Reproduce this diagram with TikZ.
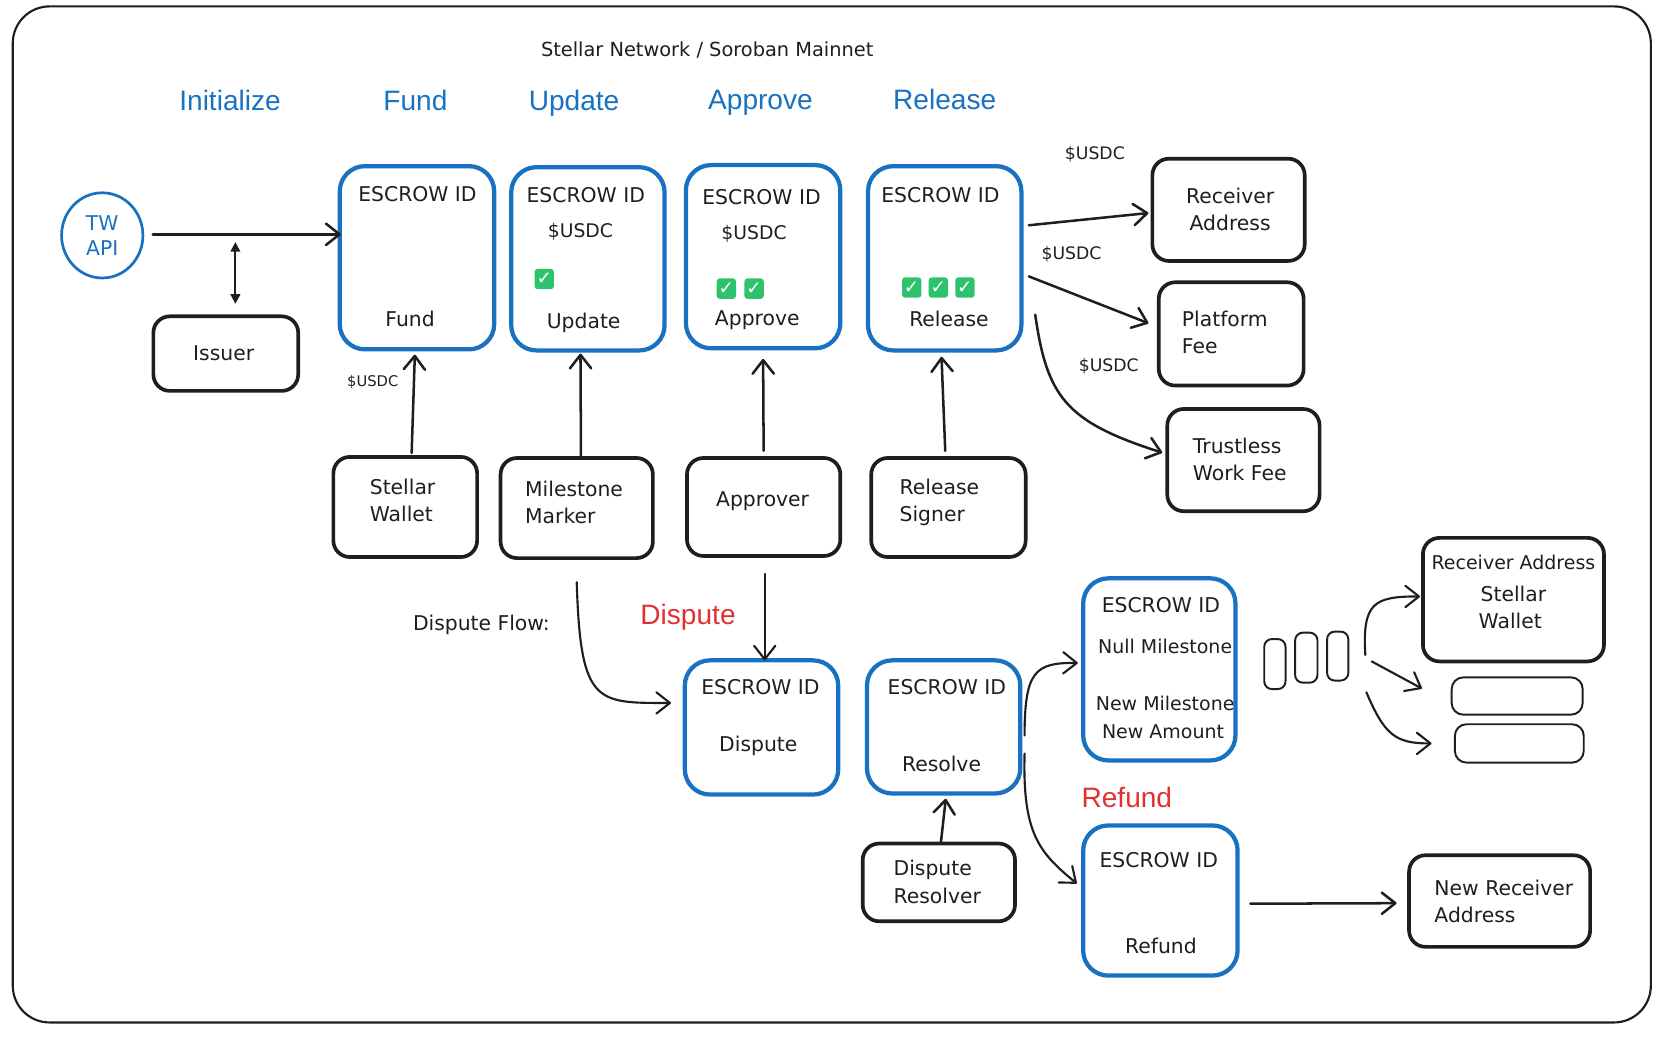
\documentclass[tikz,border=0pt]{standalone}
\usepackage{fontspec}
\setmainfont{DejaVu Sans}
\newfontfamily\headfont{Liberation Sans}
\usetikzlibrary{arrows.meta,fit,shapes.geometric,calc}
\definecolor{ink}{HTML}{1E1E1E}
\definecolor{eblue}{HTML}{1971C2}
\definecolor{ered}{HTML}{E03131}
\definecolor{egreen}{HTML}{2DC26B}
\begin{document}
\begin{tikzpicture}[x=0.55pt,y=-0.55pt,
  hand/.style={font=\fontsize{10.5}{14}\selectfont, text=ink, inner sep=0pt, align=center},
  handl/.style={hand, align=left},
  hands/.style={hand, font=\fontsize{9.8}{13}\selectfont},
  title/.style={font=\fontsize{10}{12}\selectfont, text=ink, inner sep=0pt},
  head/.style={font=\headfont\fontsize{14.5}{17}\selectfont, text=eblue, inner sep=0pt, anchor=base},
  redhead/.style={head, text=ered},
  usdc/.style={font=\fontsize{9.7}{12}\selectfont, text=ink, inner sep=0pt},
  usdcs/.style={font=\fontsize{8.9}{11}\selectfont, text=ink, inner sep=0pt},
  usdcxs/.style={font=\fontsize{7.6}{9}\selectfont, text=ink, inner sep=0pt},
  bluebox/.style={draw=eblue, line width=2.2pt, rounded corners=13pt, inner sep=0pt},
  blackbox/.style={draw=ink, line width=1.9pt, rounded corners=8.5pt, inner sep=0pt},
  thinbox/.style={draw=ink, line width=1pt, rounded corners=4pt, inner sep=0pt},
  chk/.style={fill=egreen, rounded corners=1.6pt, minimum width=10pt, minimum height=10.5pt,
     inner sep=0pt, text=white, font=\fontsize{9.5}{9.5}\selectfont\bfseries},
  arr/.style={draw=ink, line width=1.3pt, line cap=round,
     -{Straight Barb[length=7pt,width=11pt,round]}},
  tarr/.style={draw=ink, line width=1.1pt, line cap=round,
     -{Straight Barb[length=7pt,width=11pt,round]}},
  frame/.style={draw=ink, line width=1.1pt, rounded corners=19pt}
]
\useasboundingbox (0,0) rectangle (1568,976);
\draw[frame] (12,6) rectangle (1550,960);

% title and headings
\node[title] (title) at (664,47) {Stellar Network / Soroban Mainnet};
\node[head] (hInit) at (216,104) {Initialize};
\node[head] (hFund) at (390,104) {Fund};
\node[head] (hUpd) at (539,104) {Update};
\node[head] (hApp) at (714,103) {Approve};
\node[head] (hRel) at (887,103) {Release};

% TW API and issuer
\node[ellipse, draw=eblue, line width=1.4pt, minimum width=42pt, minimum height=44pt, inner sep=0pt,
  text=eblue, font=\fontsize{10.5}{13}\selectfont, align=center] (tw) at (96,221) {TW\\API};
\node[blackbox, fit={(144,297)(280,367)}] (issuer) {};
\node[hand] (issuerT) at (210,332) {Issuer};

% escrow boxes, top row
\node[bluebox, fit={(319,156)(464,328)}] (fundB) {};
\node[hand] (fundE) at (392,182) {ESCROW ID};
\node[hand] (fundL) at (385,299) {Fund};

\node[bluebox, fit={(480,157)(624,329)}] (updB) {};
\node[hand] (updE) at (550,183) {ESCROW ID};
\node[usdc] (updU) at (545,218) {\$USDC};
\node[chk] (updC1) at (511,262) {✓};
\node[hand] (updL) at (548,303) {Update};

\node[bluebox, fit={(644,155)(789,327)}] (appB) {};
\node[hand] (appE) at (715,185) {ESCROW ID};
\node[usdc] (appU) at (708,219) {\$USDC};
\node[chk] (appC1) at (682,271) {✓};
\node[chk] (appC2) at (708,271) {✓};
\node[hand] (appL) at (711,301) {Approve};

\node[bluebox, fit={(815,156)(959,329)}] (relB) {};
\node[hand] (relE) at (883,183) {ESCROW ID};
\node[chk] (relC1) at (856,270) {✓};
\node[chk] (relC2) at (881,270) {✓};
\node[chk] (relC3) at (906,270) {✓};
\node[hand] (relL) at (891,299) {Release};

% signers
\node[blackbox, fit={(313,429)(448,523)}] (walletB) {};
\node[handl] (walletT) at (378,470) {Stellar\\Wallet};
\node[blackbox, fit={(470,430)(613,524)}] (markerB) {};
\node[handl] (markerT) at (539,472) {Milestone\\Marker};
\node[blackbox, fit={(645,430)(789,522)}] (approverB) {};
\node[hand] (approverT) at (716,471) {Approver};
\node[blackbox, fit={(818,430)(963,523)}] (signerB) {};
\node[handl] (signerT) at (882,472) {Release\\Signer};

% right side receivers
\node[blackbox, fit={(1082,149)(1225,245)}] (recvB) {};
\node[hand] (recvT) at (1155,197) {Receiver\\Address};
\node[blackbox, fit={(1088,265)(1224,362)}] (platB) {};
\node[handl] (platT) at (1150,312) {Platform\\Fee};
\node[blackbox, fit={(1096,384)(1239,480)}] (trustB) {};
\node[handl] (trustT) at (1164,431) {Trustless\\Work Fee};

% top connectors
\draw[arr] ($(tw.east)+(8,-1)$) -- ($(fundB.west)+(3,-22)$);
\draw[draw=ink, line width=1pt, {Triangle[length=5pt,width=5pt]}-{Triangle[length=5pt,width=5pt]}]
  ($(issuer.north)+(9,-10)$) -- ($(issuer.north)+(9,-68)$);
\draw[arr] ($(walletB.north)+(6,-2)$) -- ($(fundB.south)+(-2,3)$);
\node[usdcxs] (usdcF) at (350,359) {\$USDC};
\draw[arr] ($(markerB.north)+(4,2)$) -- ($(updB.south)+(-7,1)$);
\draw[arr] ($(approverB.north)+(0,-5)$) -- ($(appB.south)+(0,8)$);
\draw[arr] ($(signerB.north)+(-3,-5)$) -- ($(relB.south)+(-3,4)$);

\draw[arr] ($(relB.east)+(5,-31)$) -- ($(recvB.west)+(-2,3)$);
\node[usdcs] (usdc1) at (1028,145) {\$USDC};
\draw[arr] ($(relB.east)+(5,17)$) -- ($(platB.west)+(-8,-10)$);
\node[usdcs] (usdc2) at (1006,239) {\$USDC};
\draw[arr] ($(relB.east)+(11,53)$) .. controls (983,372) and (1000,396) .. ($(trustB.west)+(-3,-7)$);
\node[usdcs] (usdc3) at (1041,344) {\$USDC};

% dispute flow
\node[hand] (dflow) at (452,587) {Dispute Flow:};
\node[redhead] (hDisp) at (646,586) {Dispute};
\node[bluebox, fit={(643,620)(787,746)}] (dispB) {};
\node[hand] (dispE) at (714,645) {ESCROW ID};
\node[hand] (dispL) at (712,700) {Dispute};
\node[bluebox, fit={(814,620)(958,745)}] (resB) {};
\node[hand] (resE) at (889,645) {ESCROW ID};
\node[hand] (resL) at (884,717) {Resolve};
\node[blackbox, fit={(810,792)(953,865)}] (resolverB) {};
\node[handl] (resolverT) at (880,828) {Dispute\\Resolver};

\draw[tarr] ($(markerB.south)+(0,21)$) .. controls (545,662) and (560,660) .. ($(dispB.west)+(-11,-23)$);
\draw[tarr] ($(approverB.south)+(1,15)$) -- ($(dispB.north)+(3,2)$);
\draw[arr] ($(resolverB.north)+(2,0)$) -- ($(resB.south)+(2,3)$);

% resolve outcomes
\node[bluebox, fit={(1017,543)(1160,714)}] (nullB) {};
\node[hand] (nullE) at (1090,568) {ESCROW ID};
\node[hands] (nullM) at (1094,607) {Null Milestone};
\node[hands] (nullN) at (1094,660) {New Milestone};
\node[hands] (nullA) at (1092,687) {New Amount};
\node[redhead] (hRef) at (1058,758) {Refund};
\node[bluebox, fit={(1017,775)(1162,916)}] (refB) {};
\node[hand] (refE) at (1088,808) {ESCROW ID};
\node[hand] (refL) at (1090,888) {Refund};
\node[blackbox, fit={(1323,803)(1493,889)}] (newrB) {};
\node[handl] (newrT) at (1412,846) {New Receiver\\Address};

\draw[tarr] ($(resB.east)+(2,8)$) .. controls (962,630) and (972,622) .. ($(nullB.west)+(-3,-6)$);
\draw[tarr] ($(resB.east)+(2,25)$) .. controls (960,782) and (975,800) .. ($(refB.west)+(-4,-16)$);
\draw[arr] ($(refB.east)+(10,3)$) -- ($(newrB.west)+(-10,2)$);

% milestone split
\node[thinbox, fit={(1187,600)(1207,647)}] (s1) {};
\node[thinbox, fit={(1216,594)(1237,641)}] (s2) {};
\node[thinbox, fit={(1246,593)(1266,639)}] (s3) {};
\node[blackbox, fit={(1336,505)(1506,621)}] (rwB) {};
\node[hands] (rwA) at (1421,528) {Receiver Address};
\node[hand] (rwS) at (1421,558) {Stellar};
\node[hand] (rwW) at (1418,583) {Wallet};
\node[thinbox, rounded corners=6pt, fit={(1363,636)(1486,671)}] (e1) {};
\node[thinbox, rounded corners=6pt, fit={(1366,680)(1487,716)}] (e2) {};

\draw[tarr] ($(s3.east)+(15,-1)$) .. controls (1279,566) and (1290,560) .. ($(rwB.west)+(-1,-3)$);
\draw[tarr] ($(s3.east)+(21,5)$) -- ($(e1.west)+(-27,-7)$);
\draw[tarr] ($(s3.east)+(16,34)$) .. controls (1300,690) and (1310,698) .. ($(e2.west)+(-21,0)$);
\end{tikzpicture}
\end{document}
